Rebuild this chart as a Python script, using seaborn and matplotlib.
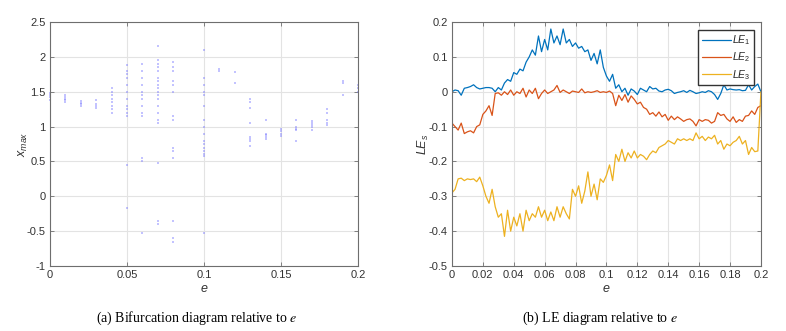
import numpy as np
import pandas as pd
import matplotlib
matplotlib.use("Agg")
import matplotlib.pyplot as plt
import seaborn as sns

# ---------------- data: bifurcation diagram ----------------
bif_e = [0.00, 0.01, 0.02, 0.03, 0.04, 0.05, 0.06, 0.07, 0.08, 0.10,
         0.11, 0.12, 0.13, 0.14, 0.15, 0.16, 0.17, 0.18, 0.19, 0.20]
bif_x = [
    [1.38, 1.42, 1.45, 1.48],
    [1.35, 1.38, 1.40, 1.43, 1.45],
    [1.30, 1.32, 1.34, 1.37],
    [1.27, 1.30, 1.33, 1.38],
    [1.20, 1.25, 1.30, 1.35, 1.40, 1.45, 1.50, 1.55],
    [1.15, 1.20, 1.25, 1.30, 1.40, 1.50, 1.60, 1.70, 1.75, 1.80, 1.88, 0.45, -0.17],
    [1.15, 1.20, 1.30, 1.40, 1.45, 1.50, 1.60, 1.70, 1.80, 1.90, 0.55, 0.50, -0.52],
    [2.15, 1.95, 1.90, 1.85, 1.80, 1.70, 1.65, 1.60, 1.55, 1.50, 1.45, 1.40, 1.30,
     1.20, 1.10, 1.05, 0.48, -0.35, -0.40],
    [1.92, 1.85, 1.80, 1.65, 1.60, 1.50, 1.15, 1.10, 0.70, 0.65, 0.55, -0.35, -0.60, -0.65],
    [2.10, 1.70, 1.60, 1.50, 1.45, 1.30, 1.10, 1.00, 0.90, 0.80, 0.75, 0.70, 0.65,
     0.60, 0.58, -0.52],
    [1.82, 1.80],
    [1.78, 1.62],
    [1.40, 1.35, 1.27, 1.05, 0.85, 0.82, 0.80, 0.72],
    [1.10, 0.90, 0.88, 0.85, 0.82],
    [0.97, 0.93, 0.90, 0.87],
    [1.10, 1.00, 0.97, 0.95, 0.80],
    [1.08, 1.05, 1.02, 1.00, 0.95],
    [1.25, 1.20, 1.10, 1.05, 1.03],
    [1.65, 1.62, 1.45],
    [1.60, 1.55, 1.50],
]

# ---------------- data: Lyapunov exponents ----------------
le_e = np.round(np.arange(101) * 0.002, 3)
le1 = [0.000, 0.005, 0.003, -0.010, 0.010, 0.012, 0.015, 0.020, 0.012, 0.008,
       0.010, 0.012, 0.012, 0.010, 0.000, 0.012, 0.005, 0.025, 0.035, 0.030,
       0.055, 0.050, 0.065, 0.060, 0.085, 0.100, 0.120, 0.105, 0.160, 0.115,
       0.150, 0.120, 0.180, 0.140, 0.160, 0.135, 0.180, 0.140, 0.150, 0.130,
       0.140, 0.125, 0.130, 0.115, 0.120, 0.090, 0.110, 0.080, 0.120, 0.070,
       0.045, 0.030, 0.050, 0.010, 0.020, 0.000, 0.010, -0.010, 0.008, 0.002,
       -0.008, 0.010, 0.005, 0.000, 0.015, 0.008, 0.010, 0.002, 0.000, 0.005,
       0.007, 0.003, -0.005, -0.002, 0.000, 0.003, -0.002, 0.004, 0.000, -0.005,
       -0.003, 0.000, -0.002, 0.003, 0.000, -0.008, -0.022, -0.005, 0.020, 0.005,
       0.008, 0.006, 0.005, 0.006, 0.003, 0.004, 0.020, 0.005, 0.015, 0.022,
       0.000]
le2 = [-0.090, -0.100, -0.110, -0.090, -0.120, -0.115, -0.112, -0.118, -0.100, -0.095,
       -0.065, -0.055, -0.040, -0.068, -0.005, -0.003, -0.010, 0.000, -0.008, 0.005,
       -0.010, 0.000, -0.005, 0.010, -0.015, 0.005, -0.005, 0.010, -0.020, -0.005,
       0.005, -0.005, 0.000, 0.005, 0.018, -0.002, 0.005, 0.000, -0.005, 0.002,
       0.000, -0.002, 0.008, -0.003, 0.000, -0.002, 0.000, 0.003, -0.002, 0.000,
       -0.002, 0.002, -0.005, -0.040, -0.010, -0.025, -0.008, -0.030, -0.012, -0.022,
       -0.035, -0.030, -0.045, -0.050, -0.065, -0.060, -0.070, -0.058, -0.072, -0.065,
       -0.082, -0.070, -0.080, -0.072, -0.078, -0.085, -0.080, -0.078, -0.085, -0.098,
       -0.080, -0.085, -0.080, -0.082, -0.090, -0.085, -0.060, -0.068, -0.065, -0.078,
       -0.085, -0.072, -0.088, -0.080, -0.085, -0.070, -0.068, -0.055, -0.065, -0.045,
       -0.040]
le3 = [-0.290, -0.280, -0.250, -0.248, -0.255, -0.250, -0.252, -0.250, -0.258, -0.245,
       -0.270, -0.300, -0.320, -0.280, -0.330, -0.360, -0.350, -0.415, -0.340, -0.400,
       -0.360, -0.385, -0.350, -0.400, -0.340, -0.370, -0.350, -0.360, -0.330, -0.360,
       -0.340, -0.370, -0.345, -0.370, -0.330, -0.360, -0.330, -0.350, -0.365, -0.280,
       -0.300, -0.270, -0.320, -0.285, -0.230, -0.300, -0.265, -0.310, -0.250, -0.260,
       -0.240, -0.210, -0.255, -0.180, -0.200, -0.165, -0.200, -0.175, -0.190, -0.170,
       -0.190, -0.180, -0.185, -0.195, -0.180, -0.170, -0.175, -0.160, -0.155, -0.150,
       -0.140, -0.145, -0.150, -0.135, -0.140, -0.135, -0.140, -0.135, -0.140, -0.118,
       -0.135, -0.128, -0.140, -0.130, -0.135, -0.125, -0.150, -0.140, -0.165, -0.150,
       -0.155, -0.145, -0.140, -0.128, -0.150, -0.140, -0.180, -0.160, -0.172, -0.170,
       0.000]
le_names = [r"$LE_{\mathit{1}}$", r"$LE_{\mathit{2}}$", r"$LE_{\mathit{3}}$"]
le_colors = ["#0072BD", "#D95319", "#EDB120"]

# ---------------- tables ----------------
bif_df = pd.DataFrame(
    [(e, x) for e, xs in zip(bif_e, bif_x) for x in xs], columns=["e", "x"]
)
le_df = pd.concat(
    [pd.DataFrame({"e": le_e, "LE": vals, "series": name})
     for name, vals in zip(le_names, [le1, le2, le3])],
    ignore_index=True,
)

# ---------------- style ----------------
sns.set_theme(style="white")
plt.rcParams["font.family"] = ["Liberation Sans", "DejaVu Sans"]
plt.rcParams["mathtext.fontset"] = "custom"
plt.rcParams["mathtext.it"] = "Liberation Sans:italic"
plt.rcParams["mathtext.rm"] = "Liberation Sans"
plt.rcParams["mathtext.bf"] = "Liberation Sans:bold"

fig = plt.figure(figsize=(7.86, 3.31), dpi=100)
ax1 = fig.add_axes([0.0636, 0.1964, 0.3919, 0.737])
ax2 = fig.add_axes([0.5750, 0.1964, 0.3931, 0.737])

grid_c = "#e3e3e3"
spine_c = "#6e6e6e"
tick_c = "#333333"


def style_axes(ax):
    ax.grid(True, color=grid_c, linewidth=0.8)
    ax.set_axisbelow(True)
    for s in ax.spines.values():
        s.set_color(spine_c)
        s.set_linewidth(0.8)
        s.set_visible(True)
    ax.tick_params(direction="in", length=3, width=0.6, colors=spine_c,
                   labelcolor=tick_c, labelsize=8, top=True, right=True,
                   bottom=True, left=True, pad=3)


# ---- left: bifurcation diagram ----
sns.scatterplot(data=bif_df, x="e", y="x", ax=ax1, color="#7a7aff",
                s=2.5, marker="s", linewidth=0, alpha=0.45, legend=False,
                clip_on=False)
ax1.set_xlim(0, 0.2)
ax1.set_ylim(-1, 2.5)
ax1.set_xticks([0, 0.05, 0.1, 0.15, 0.2])
ax1.set_xticklabels(["0", "0.05", "0.1", "0.15", "0.2"])
ax1.set_yticks([-1, -0.5, 0, 0.5, 1, 1.5, 2, 2.5])
ax1.set_yticklabels(["-1", "-0.5", "0", "0.5", "1", "1.5", "2", "2.5"])
ax1.set_xlabel(r"$e$", fontsize=9, color=tick_c, labelpad=2)
ax1.set_ylabel(r"$x_{max}$", fontsize=9, color=tick_c, labelpad=-2)
style_axes(ax1)

# ---- right: LE diagram ----
sns.lineplot(data=le_df, x="e", y="LE", hue="series", palette=le_colors,
             ax=ax2, linewidth=0.9, estimator=None, sort=False)
ax2.set_xlim(0, 0.2)
ax2.set_ylim(-0.5, 0.2)
ax2.set_xticks([0, 0.02, 0.04, 0.06, 0.08, 0.1, 0.12, 0.14, 0.16, 0.18, 0.2])
ax2.set_xticklabels(["0", "0.02", "0.04", "0.06", "0.08", "0.1", "0.12",
                     "0.14", "0.16", "0.18", "0.2"])
ax2.set_yticks([-0.5, -0.4, -0.3, -0.2, -0.1, 0, 0.1, 0.2])
ax2.set_yticklabels(["-0.5", "-0.4", "-0.3", "-0.2", "-0.1", "0", "0.1", "0.2"])
ax2.set_xlabel(r"$e$", fontsize=9, color=tick_c, labelpad=2)
ax2.set_ylabel(r"$LE_s$", fontsize=9, color=tick_c, labelpad=-2)
style_axes(ax2)

handles, labels = ax2.get_legend_handles_labels()
leg = ax2.legend(handles, labels, loc="upper right",
                 bbox_to_anchor=(0.977, 0.967), frameon=True, fancybox=False,
                 framealpha=1, edgecolor="#333333", fontsize=7.5,
                 handlelength=2.8, handletextpad=0.15, borderpad=0.3,
                 labelspacing=0.35, borderaxespad=0)
leg.get_frame().set_linewidth(1.0)

# ---- captions ----
fig.text(0.250, 0.039, r"(a) Bifurcation diagram relative to $e$",
         ha="center", va="center", fontsize=10, family="Liberation Serif",
         math_fontfamily="stix", color="black")
fig.text(0.763, 0.039, r"(b) LE diagram relative to $e$",
         ha="center", va="center", fontsize=10, family="Liberation Serif",
         math_fontfamily="stix", color="black")

fig.savefig("out.png", dpi=100)
